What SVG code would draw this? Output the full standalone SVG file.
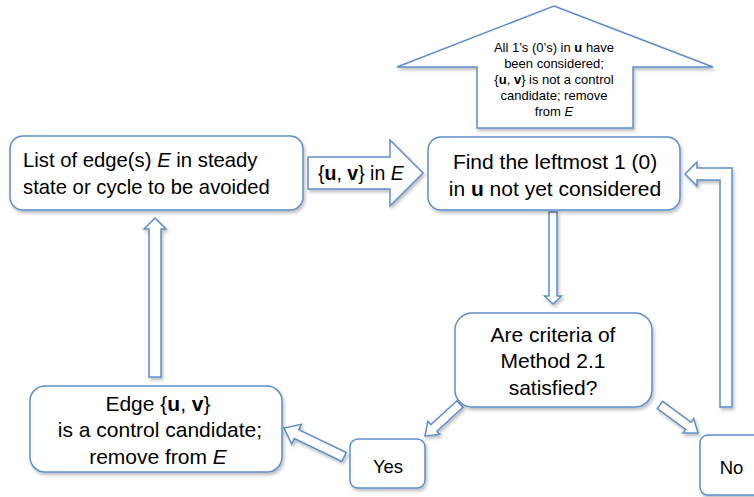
<svg xmlns="http://www.w3.org/2000/svg" width="754" height="497" viewBox="0 0 754 497">
<defs>
<filter id="sh" x="-10%" y="-10%" width="130%" height="140%">
<feDropShadow dx="1.5" dy="2.5" stdDeviation="1.8" flood-color="#000" flood-opacity="0.25"/>
</filter>
<style>
.box{fill:#fff;stroke:#5f8dcb;stroke-width:1.5;filter:url(#sh)}
.arr{fill:#fff;stroke:#5f8dcb;stroke-width:1.5;stroke-linejoin:miter;filter:url(#sh)}
text{font-family:"Liberation Sans",Arial,sans-serif;fill:#000}
.t21{font-size:21px}
.t13{font-size:13px}
.c{text-anchor:middle}
</style>
</defs>
<rect width="754" height="497" fill="#fff"/>
<g id="connectors">
<polygon class="arr" points="308,157 390,157 390,140 423,173 390,206 390,189 308,189"/>
<text x="318" y="179.5" style="font-size:19.5px">{<tspan font-weight="bold">u</tspan>, <tspan font-weight="bold">v</tspan>} in <tspan font-style="italic">E</tspan></text>
<polygon class="arr" points="549,212 557,212 557,296 561.5,296 553,304 544.5,296 549,296"/>
<polygon class="arr" points="732,168 732,407 720,407 720,180 697,180 697,186 685,174 697,162 697,168"/>
<polygon class="arr" points="463,407.3 436.9,431.2 439.9,434.5 425,436 427.8,421.3 430.8,424.6 457,400.7"/>
<polygon class="arr" points="657.3,408.6 685.7,429.5 683,433.1 698,433 693.7,418.6 691,422.3 662.7,401.4"/>
<polygon class="arr" points="346.2,452.5 298.8,429.6 301.4,424.2 284,428 291.8,444 294.4,438.6 341.8,461.5"/>
<polygon class="arr" points="155,218 166,229 161,229 161,377 149,377 149,229 144,229"/>
</g>
<g id="considered">
<polygon class="arr" points="554,6 713,67 633,67 633,128 477,128 477,67 397,67"/>
<text class="t13 c" x="554" y="52">All 1’s (0’s) in <tspan font-weight="bold">u</tspan> have</text>
<text class="t13 c" x="554" y="68">been considered;</text>
<text class="t13 c" x="554" y="84">{<tspan font-weight="bold">u</tspan>, <tspan font-weight="bold">v</tspan>} is not a control</text>
<text class="t13 c" x="554" y="100">candidate; remove</text>
<text class="t13 c" x="554" y="116">from <tspan font-style="italic">E</tspan></text>
</g>
<g id="list">
<rect class="box" x="10" y="136" width="293" height="74" rx="13"/>
<text x="23" y="167" style="font-size:20.3px">List of edge(s) <tspan font-style="italic">E</tspan> in steady</text>
<text x="23" y="194" style="font-size:20.3px">state or cycle to be avoided</text>
</g>
<g id="find">
<rect class="box" x="428" y="137" width="252" height="73" rx="13"/>
<text class="t21 c" x="555" y="169">Find the leftmost 1 (0)</text>
<text class="t21 c" x="555" y="196">in <tspan font-weight="bold">u</tspan> not yet considered</text>
</g>
<g id="decision">
<rect class="box" x="455" y="313" width="197" height="94" rx="17"/>
<text class="t21 c" x="553" y="342">Are criteria of</text>
<text class="t21 c" x="553" y="368">Method 2.1</text>
<text class="t21 c" x="553" y="395">satisfied?</text>
</g>
<g id="edge">
<rect class="box" x="30" y="386" width="252" height="86" rx="15"/>
<text class="t21 c" x="158" y="411">Edge {<tspan font-weight="bold">u</tspan>, <tspan font-weight="bold">v</tspan>}</text>
<text class="t21 c" x="160" y="437">is a control candidate;</text>
<text class="t21 c" x="158" y="464">remove from <tspan font-style="italic">E</tspan></text>
</g>
<g id="yes">
<rect class="box" x="350" y="439" width="75" height="49" rx="8"/>
<text class="c" x="388" y="473" style="font-size:18.5px">Yes</text>
</g>
<g id="no">
<rect class="box" x="700" y="435" width="70" height="60" rx="8"/>
<text class="c" x="731.5" y="474" style="font-size:18.5px">No</text>
</g>
</svg>
